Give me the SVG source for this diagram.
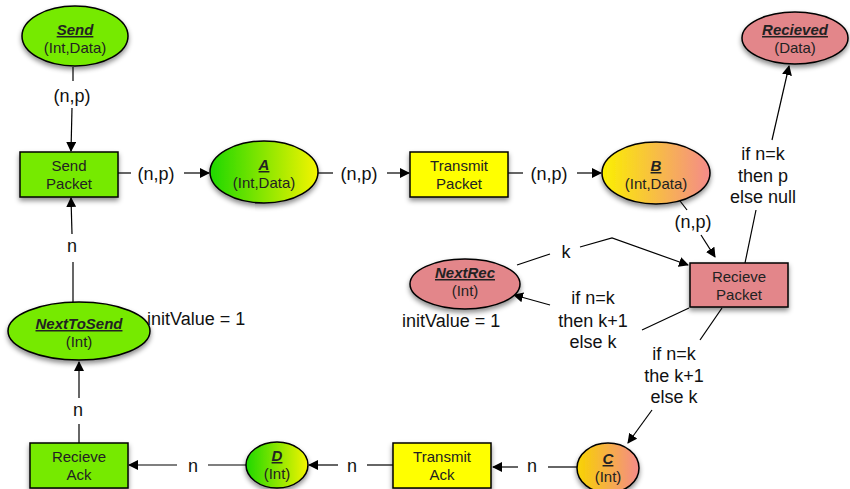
<svg xmlns="http://www.w3.org/2000/svg" width="850" height="489" viewBox="0 0 850 489">
<defs>
<filter id="sh" x="-30%" y="-30%" width="160%" height="170%">
<feDropShadow dx="0" dy="3" stdDeviation="2.5" flood-color="#000" flood-opacity="0.45"/>
</filter>
<linearGradient id="gA" x1="0" x2="1" y1="0" y2="0"><stop offset="0" stop-color="#1ed800"/><stop offset="1" stop-color="#f4f400"/></linearGradient>
<linearGradient id="gB" x1="0" x2="1" y1="0" y2="0"><stop offset="0" stop-color="#fbf000"/><stop offset="1" stop-color="#f48a8a"/></linearGradient>
<linearGradient id="gC" x1="0" x2="1" y1="0" y2="0"><stop offset="0" stop-color="#f8d400"/><stop offset="1" stop-color="#f48a8a"/></linearGradient>
<linearGradient id="gD" x1="0" x2="1" y1="0" y2="0"><stop offset="0" stop-color="#1ed800"/><stop offset="1" stop-color="#f4f400"/></linearGradient>
<marker id="ar" viewBox="0 0 10 10" refX="9" refY="5" markerWidth="10" markerHeight="10" markerUnits="userSpaceOnUse" orient="auto">
<path d="M0,0 L10,5 L0,10 z" fill="#000"/>
</marker>
<style>
.sh{stroke:#000;stroke-width:1.5;filter:url(#sh)}
.nt{font-family:"Liberation Sans",Arial,sans-serif;font-size:15px;fill:#222;text-anchor:middle}
.ti{font-weight:bold;font-style:italic;text-decoration:underline}
.el{font-family:"Liberation Sans",Arial,sans-serif;font-size:18px;fill:#111;text-anchor:middle}
.ln{stroke:#000;stroke-width:1.2;fill:none}
.ar{marker-end:url(#ar)}
.grn{fill:#76ea00}
.yel{fill:#ffff00}
.red{fill:#e3868a}
</style>
</defs>

<g id="connectors">
<!-- Send -> Send Packet -->
<line class="ln" x1="73" y1="67" x2="73" y2="81"/>
<text class="el" x="72" y="102">(n,p)</text>
<line class="ln ar" x1="72" y1="108" x2="71" y2="151"/>
<!-- Send Packet -> A -->
<line class="ln" x1="118" y1="173" x2="131" y2="173"/>
<text class="el" x="156" y="180">(n,p)</text>
<line class="ln ar" x1="184" y1="173" x2="209" y2="173"/>
<!-- A -> Transmit Packet -->
<line class="ln" x1="318" y1="173" x2="333" y2="173"/>
<text class="el" x="359" y="180">(n,p)</text>
<line class="ln ar" x1="387" y1="173" x2="409" y2="173"/>
<!-- Transmit Packet -> B -->
<line class="ln" x1="508" y1="173" x2="523" y2="173"/>
<text class="el" x="549" y="180">(n,p)</text>
<line class="ln ar" x1="577" y1="173" x2="601" y2="173"/>
<!-- B -> Recieve Packet -->
<line class="ln" x1="677" y1="197" x2="687" y2="210"/>
<text class="el" x="693" y="228">(n,p)</text>
<line class="ln ar" x1="701" y1="235" x2="715" y2="257"/>
<!-- Recieve Packet -> Recieved -->
<line class="ln" x1="745" y1="263" x2="756" y2="210"/>
<text class="el" x="763" y="160">if n=k</text>
<text class="el" x="763" y="182">then p</text>
<text class="el" x="763" y="203">else null</text>
<line class="ln ar" x1="772" y1="140" x2="789" y2="66"/>
<!-- NextRec -> Recieve Packet -->
<polyline class="ln" points="517,265 550,254"/>
<text class="el" x="566" y="258">k</text>
<polyline class="ln ar" points="580,247 612,238 688,265"/>
<!-- Recieve Packet -> NextRec -->
<line class="ln" x1="689" y1="308" x2="642" y2="330"/>
<text class="el" x="593" y="304">if n=k</text>
<text class="el" x="593" y="327">then k+1</text>
<text class="el" x="593" y="348">else k</text>
<line class="ln ar" x1="550" y1="305" x2="514" y2="295"/>
<!-- Recieve Packet -> C -->
<line class="ln" x1="722" y1="308" x2="700" y2="340"/>
<text class="el" x="674" y="360">if n=k</text>
<text class="el" x="674" y="382">the k+1</text>
<text class="el" x="674" y="403">else k</text>
<line class="ln ar" x1="652" y1="410" x2="628" y2="443"/>
<!-- C -> Transmit Ack -->
<line class="ln" x1="578" y1="467" x2="548" y2="467"/>
<text class="el" x="532" y="472">n</text>
<line class="ln ar" x1="518" y1="467" x2="493" y2="467"/>
<!-- Transmit Ack -> D -->
<line class="ln" x1="393" y1="465" x2="367" y2="465"/>
<text class="el" x="352" y="472">n</text>
<line class="ln ar" x1="338" y1="465" x2="309" y2="465"/>
<!-- D -> Recieve Ack -->
<line class="ln" x1="247" y1="465" x2="208" y2="465"/>
<text class="el" x="193" y="472">n</text>
<line class="ln ar" x1="177" y1="465" x2="129" y2="465"/>
<!-- Recieve Ack -> NextToSend -->
<line class="ln" x1="79" y1="443" x2="79" y2="424"/>
<text class="el" x="78" y="416">n</text>
<line class="ln ar" x1="79" y1="398" x2="79" y2="362"/>
<!-- NextToSend -> Send Packet -->
<line class="ln" x1="73" y1="302" x2="73" y2="262"/>
<text class="el" x="72" y="252">n</text>
<line class="ln ar" x1="72" y1="234" x2="71" y2="198"/>
</g>

<g id="send"><ellipse class="sh grn" cx="75" cy="36" rx="53" ry="30"/>
<text class="nt ti" x="75" y="35">Send</text><text class="nt" x="75" y="53">(Int,Data)</text></g>

<g id="sendPacket"><rect class="sh grn" x="20" y="152" width="98" height="45"/>
<text class="nt" x="69" y="171">Send</text><text class="nt" x="69" y="189">Packet</text></g>

<g id="A"><ellipse class="sh" fill="url(#gA)" cx="264" cy="172" rx="54" ry="31"/>
<text class="nt ti" x="264" y="170">A</text><text class="nt" x="264" y="188">(Int,Data)</text></g>

<g id="transmitPacket"><rect class="sh yel" x="410" y="152" width="98" height="45"/>
<text class="nt" x="459" y="171">Transmit</text><text class="nt" x="459" y="189">Packet</text></g>

<g id="B"><ellipse class="sh" fill="url(#gB)" cx="656" cy="173" rx="54" ry="31"/>
<text class="nt ti" x="656" y="171">B</text><text class="nt" x="656" y="189">(Int,Data)</text></g>

<g id="recieved"><ellipse class="sh red" cx="795" cy="38" rx="53" ry="26"/>
<text class="nt ti" x="795" y="35">Recieved</text><text class="nt" x="795" y="53">(Data)</text></g>

<g id="nextRec"><ellipse class="sh red" cx="465" cy="284" rx="55" ry="25"/>
<text class="nt ti" x="465" y="278">NextRec</text><text class="nt" x="465" y="296">(Int)</text></g>
<text class="el" x="402" y="327" style="text-anchor:start">initValue = 1</text>

<g id="recievePacket"><rect class="sh red" x="690" y="263" width="98" height="44"/>
<text class="nt" x="739" y="282">Recieve</text><text class="nt" x="739" y="300">Packet</text></g>

<g id="nextToSend"><ellipse class="sh grn" cx="79" cy="331" rx="71" ry="29"/>
<text class="nt ti" x="79" y="329">NextToSend</text><text class="nt" x="79" y="347">(Int)</text></g>
<text class="el" x="147" y="325" style="text-anchor:start">initValue = 1</text>

<g id="recieveAck"><rect class="sh grn" x="30" y="443" width="98" height="45"/>
<text class="nt" x="79" y="462">Recieve</text><text class="nt" x="79" y="480">Ack</text></g>

<g id="D"><ellipse class="sh" fill="url(#gD)" cx="277" cy="465" rx="31" ry="23"/>
<text class="nt ti" x="277" y="461">D</text><text class="nt" x="277" y="479">(Int)</text></g>

<g id="transmitAck"><rect class="sh yel" x="393" y="443" width="98" height="45"/>
<text class="nt" x="442" y="462">Transmit</text><text class="nt" x="442" y="480">Ack</text></g>

<g id="C"><ellipse class="sh" fill="url(#gC)" cx="608" cy="468" rx="31" ry="25"/>
<text class="nt ti" x="608" y="464">C</text><text class="nt" x="608" y="482">(Int)</text></g>
</svg>
